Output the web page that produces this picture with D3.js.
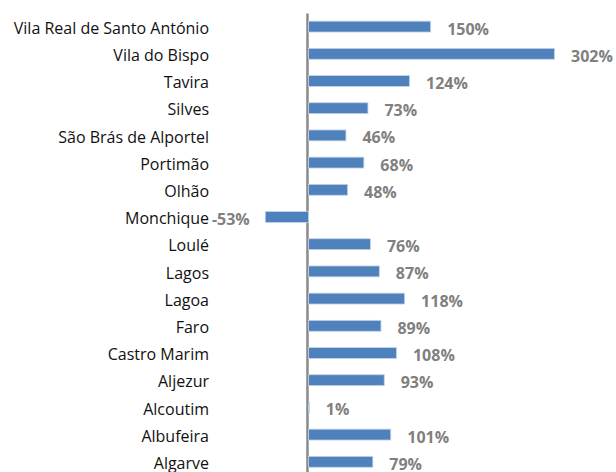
<!DOCTYPE html>
<html>
<head>
<meta charset="utf-8">
<script src="https://cdnjs.cloudflare.com/ajax/libs/d3/7.8.5/d3.min.js"></script>
<style>
  body { margin: 0; background: #fff; }
  svg { display: block; }
</style>
</head>
<body>
<div id="chart"></div>
<script>
var width = 616, height = 472;

// municipalities, top to bottom as in the chart
var concelhos = ["Vila Real de Santo António", "Vila do Bispo", "Tavira", "Silves",
  "São Brás de Alportel", "Portimão", "Olhão", "Monchique", "Loulé", "Lagos",
  "Lagoa", "Faro", "Castro Marim", "Aljezur", "Alcoutim", "Albufeira", "Algarve"];

// variation in %
var variacao = [150, 302, 124, 73, 46, 68, 48, -53, 76, 87, 118, 89, 108, 93, 1, 101, 79];

var data = concelhos.map(function(d, i) { return {name: d, value: variacao[i]}; });

var svg = d3.select("#chart")
  .append("svg")
  .attr("width", width)
  .attr("height", height);

// 0 sits at x=308, 302% reaches ~554
var x = d3.scaleLinear()
  .domain([-100, 350])
  .range([226.5, 593.1]);

var y = d3.scaleBand()
  .domain(concelhos)
  .range([13, 13 + 17 * 27.2])
  .paddingInner(0.6)
  .paddingOuter(0.3);

var x0 = x(0);

// category axis, line just left of the zero point
var axis = svg.append("g")
  .attr("transform", "translate(" + (x0 - 1) + ",0)")
  .call(d3.axisLeft(y).tickSize(0).tickSizeOuter(0).tickPadding(x0 - 1 - 209));

axis.select(".domain")
  .attr("stroke", "#8a8a8a")
  .attr("stroke-width", 2.5);

axis.selectAll("text")
  .attr("font-family", "'Open Sans', sans-serif")
  .attr("font-size", 16)
  .attr("fill", "#111")
  .attr("dy", "0.45em");

// bars (light edge like the original)
svg.selectAll(".bar")
  .data(data)
  .enter()
  .append("rect")
  .attr("class", "bar")
  .attr("x", function(d) { return x(Math.min(0, d.value)) + 0.5; })
  .attr("y", function(d) { return y(d.name); })
  .attr("width", function(d) { return Math.abs(x(d.value) - x0); })
  .attr("height", y.bandwidth())
  .attr("fill", "#4f81bd")
  .attr("stroke", "#c3d3ea")
  .attr("stroke-width", 0.8);

// value labels
svg.selectAll(".val")
  .data(data)
  .enter()
  .append("text")
  .attr("class", "val")
  .attr("x", function(d) { return d.value < 0 ? x(d.value) - 15 : x(d.value) + 17; })
  .attr("y", function(d) { return y(d.name) + y.bandwidth() / 2; })
  .attr("dy", "0.5em")
  .attr("text-anchor", function(d) { return d.value < 0 ? "end" : "start"; })
  .attr("font-family", "'Open Sans', sans-serif")
  .attr("font-weight", "bold")
  .attr("font-size", 16)
  .attr("fill", "#808080")
  .text(function(d) { return d.value + "%"; });
</script>
</body>
</html>
